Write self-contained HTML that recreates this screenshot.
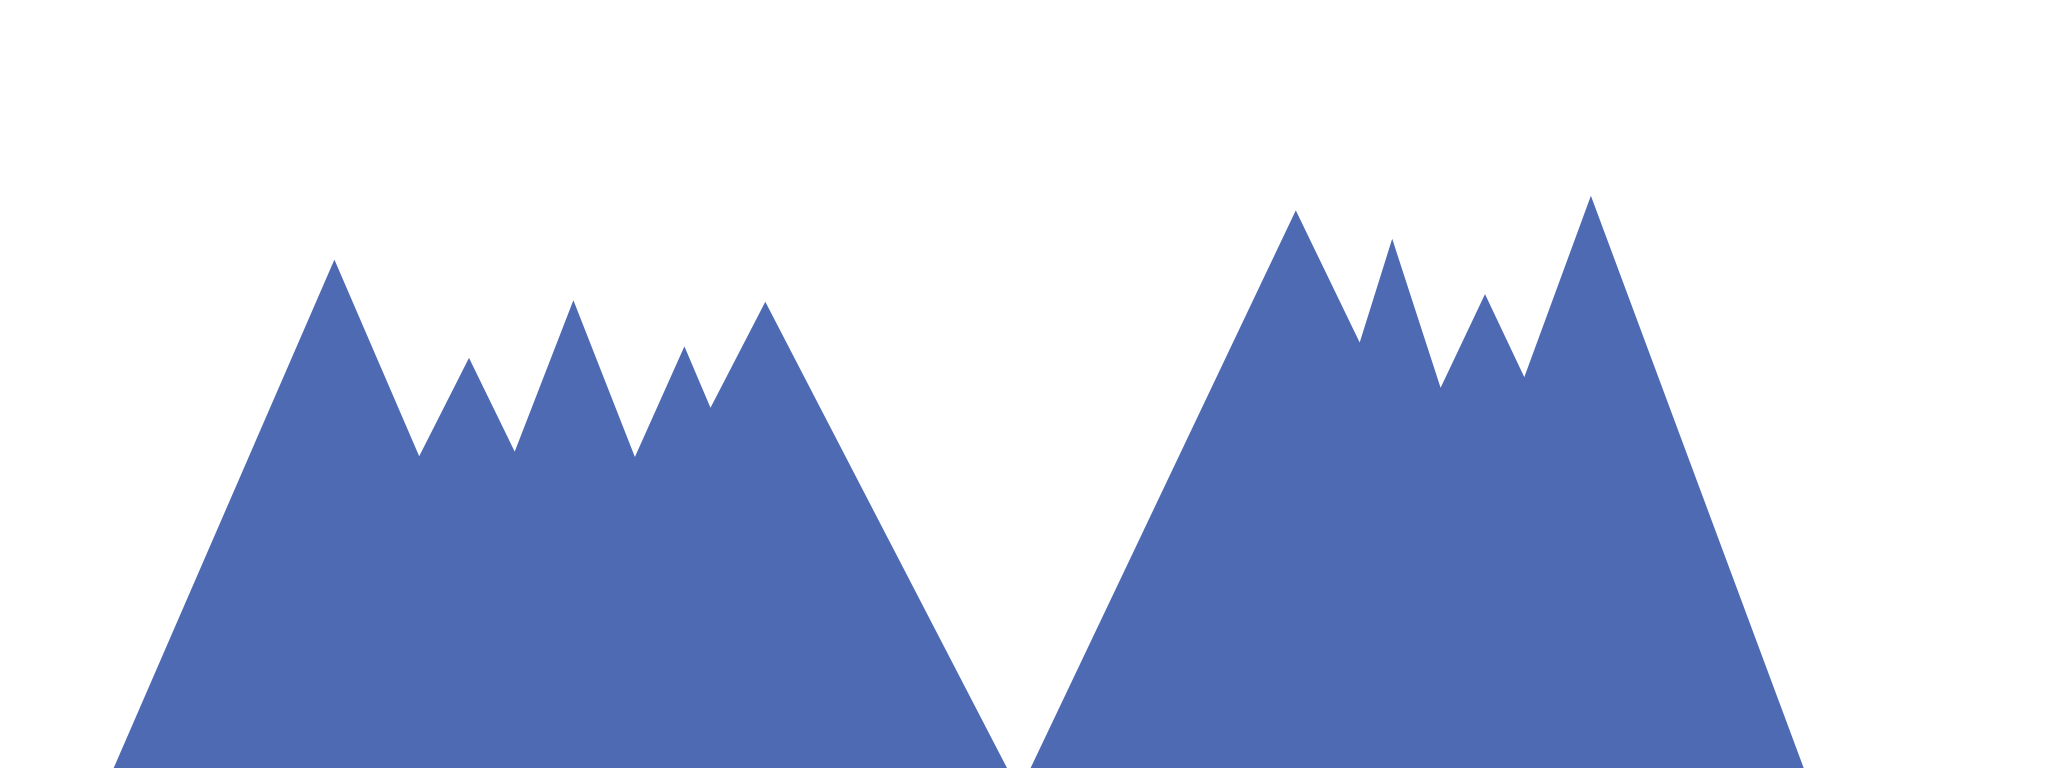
<!DOCTYPE html>
<html><head><meta charset="utf-8"><style>
html,body{margin:0;padding:0;background:#fff;width:2048px;height:768px;overflow:hidden}
svg{display:block}
</style></head><body>
<svg id="chart" width="2048" height="768" viewBox="0 0 2048 768" xmlns="http://www.w3.org/2000/svg"></svg>
<script>
const leftX = [5.55,16.33,20.47,22.90,25.13,28.0,31.0,33.42,34.69,37.37,49.17];
const leftY = [0,66.2,40.6,53.4,41.2,60.9,40.5,54.9,46.9,60.7,0];
const rightX = [50.32,63.27,66.39,67.98,70.34,72.51,74.43,77.68,88.07];
const rightY = [0,72.6,55.4,68.9,49.5,61.7,50.9,74.5,0];

const W=2048,H=768;
function sx(v){return v/100*W;}
function sy(v){return H - v/100*H;}
const svg=document.getElementById('chart');
const NS='http://www.w3.org/2000/svg';
function draw(xs,ys,name){
  const p=document.createElementNS(NS,'polygon');
  p.setAttribute('points',xs.map((x,i)=>sx(x).toFixed(1)+','+sy(ys[i]).toFixed(1)).join(' '));
  p.setAttribute('fill','#4d6ab3');
  
  
  svg.appendChild(p);
}
draw(leftX,leftY,'left-mountain-area');
draw(rightX,rightY,'right-mountain-area');
</script>
</body></html>
